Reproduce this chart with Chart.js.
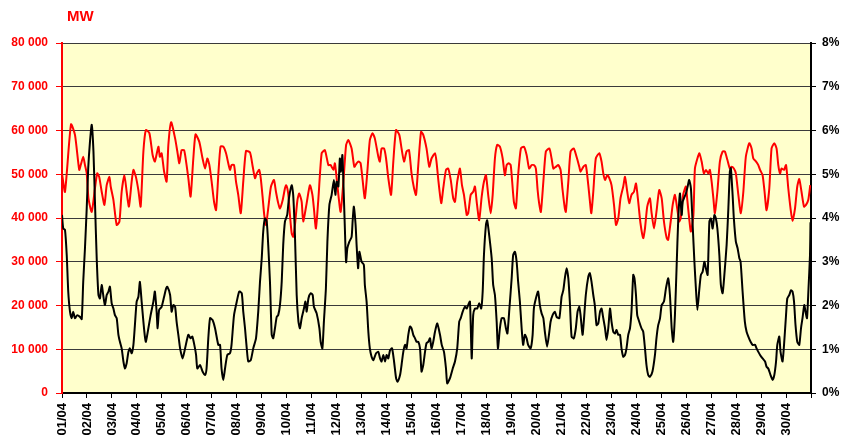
<!DOCTYPE html>
<html>
<head>
<meta charset="utf-8">
<script src="https://cdn.jsdelivr.net/npm/chart.js@4/dist/chart.umd.min.js"></script>
<style>
  html, body { margin: 0; padding: 0; background: #ffffff; }
  #wrap { width: 842px; height: 438px; }
</style>
</head>
<body>
<div id="wrap"><canvas id="c" width="842" height="438"></canvas></div>
<script>
// ---- tick labels ----
const dayLabels = ['01/04','02/04','03/04','04/04','05/04','06/04','07/04','08/04','09/04','10/04',
  '11/04','12/04','13/04','14/04','15/04','16/04','17/04','18/04','19/04','20/04',
  '21/04','22/04','23/04','24/04','25/04','26/04','27/04','28/04','29/04','30/04'];
const unitLabel = 'MW';

// ---- red series: load (MW), time in days since 01/04 00:00 ----
const loadDay = [0.00,0.12,0.36,0.52,0.69,0.75,0.85,0.92,0.99,1.06,1.19,1.32,1.41,1.49,1.59,1.70,1.79,1.90,1.95,2.06,
  2.19,2.30,2.39,2.50,2.59,2.68,2.79,2.86,2.96,3.06,3.15,3.26,3.36,3.50,3.63,3.72,3.86,3.92,3.99,4.09,
  4.19,4.26,4.37,4.53,4.62,4.70,4.79,4.89,4.97,5.06,5.15,5.26,5.35,5.50,5.63,5.73,5.82,5.90,5.99,6.09,
  6.17,6.26,6.35,6.46,6.57,6.66,6.73,6.79,6.89,6.97,7.06,7.16,7.26,7.37,7.53,7.64,7.73,7.80,7.90,7.96,
  8.04,8.10,8.17,8.26,8.37,8.49,8.57,8.66,8.73,8.84,8.93,8.98,9.06,9.13,9.20,9.26,9.33,9.43,9.50,9.60,
  9.66,9.80,9.93,10.03,10.09,10.17,10.27,10.40,10.53,10.67,10.76,10.87,10.93,11.00,11.07,11.16,11.27,11.38,11.47,11.60,
  11.71,11.80,11.88,11.96,12.04,12.13,12.23,12.33,12.44,12.53,12.67,12.73,12.80,12.90,12.98,13.07,13.18,13.27,13.38,13.51,
  13.60,13.70,13.80,13.90,14.00,14.10,14.18,14.27,14.38,14.47,14.60,14.71,14.80,14.94,15.00,15.08,15.19,15.27,15.38,15.47,
  15.57,15.67,15.74,15.83,15.94,16.02,16.10,16.21,16.27,16.37,16.47,16.54,16.61,16.71,16.81,16.90,16.98,17.07,17.17,17.25,
  17.34,17.43,17.54,17.65,17.74,17.81,17.89,17.97,18.02,18.10,18.18,18.27,18.38,18.50,18.61,18.71,18.81,18.90,18.98,19.05,
  19.11,19.18,19.28,19.38,19.52,19.61,19.68,19.78,19.88,19.97,20.05,20.14,20.18,20.28,20.37,20.50,20.61,20.72,20.77,20.88,
  20.98,21.08,21.14,21.20,21.28,21.38,21.52,21.61,21.68,21.75,21.84,21.92,22.01,22.11,22.19,22.28,22.37,22.48,22.55,22.64,
  22.72,22.81,22.91,22.99,23.08,23.17,23.28,23.35,23.44,23.55,23.61,23.71,23.81,23.92,24.02,24.11,24.22,24.28,24.38,24.46,
  24.55,24.64,24.72,24.78,24.88,24.99,25.04,25.12,25.19,25.29,25.35,25.45,25.53,25.62,25.71,25.79,25.89,25.95,26.02,26.09,
  26.15,26.25,26.35,26.46,26.55,26.65,26.75,26.82,26.91,26.99,27.09,27.19,27.29,27.39,27.53,27.62,27.69,27.80,27.89,27.96,
  28.06,28.14,28.22,28.33,28.42,28.53,28.62,28.69,28.76,28.82,28.92,29.00,29.09,29.18,29.26,29.36,29.45,29.53,29.62,29.72,
  29.80,29.89,29.97];
const loadMW = [50200,46000,61400,59000,51000,52100,54000,52100,50200,44500,41400,46800,50200,49400,46000,43000,47500,49400,47200,44100,
  38400,39200,46000,49800,46000,42600,48300,51000,49400,46300,42600,55200,60100,59400,54400,52900,56300,54000,54800,50600,
  48300,56700,61900,58200,55200,52500,55500,55500,52900,49100,44900,53600,59100,57400,53600,51300,53600,52200,48500,43700,
  41800,49800,56300,56300,54800,52500,51000,52100,52100,48300,45300,41100,48300,55300,55000,51700,49100,50200,51000,49100,
  44500,40700,38400,42200,47200,48700,46000,43400,42200,44100,46800,47500,45600,40700,36500,35700,38400,44100,45600,43700,
  39200,43400,47500,45300,42200,37600,44500,54800,55500,52100,52100,51000,52500,49100,45300,41400,48300,56700,57800,55900,
  51700,52500,52900,52500,48700,44500,50600,57800,59400,58200,54000,52900,55900,55900,53600,49100,45300,52900,60100,59000,
  55900,52900,55200,55500,50200,46800,45300,52100,59700,59000,55900,51700,53600,54800,52900,48300,43400,46800,51000,51300,
  48700,44500,43700,48300,51300,47500,45300,40700,41100,45300,46000,47200,43700,39500,44900,48300,49800,45300,41100,45300,
  53600,56700,56300,53600,49800,52100,52500,52100,49100,43700,42200,49800,55900,56300,54400,51300,52100,52100,51300,46400,
  43400,41400,48300,55200,55900,53600,51300,51700,52100,51000,46400,42200,41400,48300,55200,55900,54000,51700,50600,51700,
  52100,47500,44100,41100,46000,53600,54800,52900,50200,48700,49800,49100,47500,43000,38400,39900,44500,47200,49400,46000,
  43400,45300,46000,47900,43700,38800,35400,37600,42600,44500,41400,37600,41400,46400,44500,39200,35400,35000,39200,43000,
  45300,42200,39200,39900,45300,47200,44500,39900,36900,40700,51300,53600,54800,52900,50200,51000,50200,51000,48300,44500,
  41100,46000,52900,55200,55200,53300,51300,51700,51300,50200,45300,41100,46000,54000,57100,55900,53600,52900,52100,51000,
  49800,46000,41800,46800,55900,57100,55900,52100,50200,51300,51000,52100,46800,42200,39300,42200,47200,48900,46000,42600,
  43000,44100,47500];

// ---- black series: percentage (right axis), time in days since 01/04 00:00 ----
const shareDay = [0.00,0.05,0.12,0.19,0.25,0.32,0.39,0.45,0.52,0.61,0.72,0.79,0.85,0.92,0.99,1.05,1.12,1.19,1.26,1.32,
  1.39,1.46,1.52,1.59,1.66,1.72,1.79,1.86,1.92,1.99,2.06,2.12,2.19,2.26,2.32,2.39,2.46,2.52,2.59,2.66,
  2.72,2.79,2.86,2.92,2.99,3.06,3.12,3.19,3.26,3.32,3.36,3.46,3.55,3.66,3.72,3.79,3.83,3.89,3.99,4.09,
  4.17,4.22,4.33,4.39,4.46,4.53,4.59,4.66,4.73,4.83,4.93,5.06,5.15,5.22,5.30,5.37,5.42,5.53,5.63,5.73,
  5.79,5.86,5.93,6.03,6.13,6.26,6.33,6.39,6.46,6.53,6.62,6.73,6.79,6.89,7.00,7.10,7.20,7.26,7.33,7.40,
  7.46,7.56,7.66,7.77,7.86,7.93,8.00,8.06,8.13,8.20,8.26,8.33,8.40,8.46,8.53,8.60,8.66,8.73,8.80,8.86,
  8.93,9.02,9.09,9.20,9.26,9.33,9.40,9.47,9.53,9.60,9.69,9.75,9.80,9.87,9.96,10.04,10.09,10.20,10.31,10.36,
  10.43,10.49,10.57,10.63,10.71,10.80,10.89,10.95,11.00,11.07,11.13,11.17,11.23,11.27,11.33,11.38,11.43,11.51,11.60,11.64,
  11.69,11.76,11.80,11.86,11.91,12.00,12.09,12.13,12.20,12.27,12.33,12.40,12.47,12.58,12.67,12.74,12.80,12.87,12.94,13.00,
  13.07,13.14,13.22,13.30,13.38,13.44,13.54,13.60,13.67,13.74,13.80,13.87,13.94,14.00,14.07,14.14,14.20,14.27,14.34,14.40,
  14.47,14.54,14.60,14.67,14.74,14.80,14.87,14.94,15.03,15.14,15.21,15.30,15.38,15.43,15.54,15.65,15.74,15.83,15.91,15.97,
  16.05,16.14,16.21,16.27,16.34,16.41,16.47,16.54,16.63,16.71,16.79,16.85,16.90,16.98,17.03,17.11,17.21,17.27,17.34,17.41,
  17.46,17.54,17.61,17.70,17.78,17.84,17.92,18.01,18.07,18.14,18.21,18.27,18.34,18.41,18.47,18.54,18.61,18.67,18.77,18.85,
  18.90,18.98,19.07,19.14,19.21,19.28,19.34,19.43,19.52,19.57,19.65,19.74,19.81,19.92,20.01,20.08,20.14,20.21,20.28,20.34,
  20.41,20.50,20.58,20.65,20.72,20.77,20.85,20.90,20.98,21.08,21.14,21.21,21.28,21.34,21.41,21.48,21.55,21.61,21.68,21.75,
  21.81,21.88,21.95,22.01,22.08,22.15,22.21,22.28,22.35,22.41,22.48,22.55,22.61,22.68,22.75,22.81,22.88,22.93,22.99,23.04,
  23.12,23.21,23.28,23.35,23.41,23.48,23.55,23.65,23.75,23.81,23.88,23.95,24.02,24.11,24.19,24.28,24.35,24.42,24.48,24.55,
  24.62,24.68,24.75,24.82,24.86,24.91,24.99,25.06,25.12,25.19,25.26,25.33,25.39,25.45,25.53,25.59,25.66,25.73,25.79,25.86,
  25.93,25.99,26.06,26.13,26.19,26.25,26.33,26.39,26.46,26.53,26.62,26.69,26.75,26.79,26.86,26.91,26.99,27.06,27.13,27.18,
  27.26,27.35,27.42,27.49,27.58,27.66,27.76,27.82,27.89,27.96,28.06,28.16,28.22,28.29,28.38,28.46,28.53,28.60,28.65,28.73,
  28.78,28.86,28.92,29.00,29.05,29.13,29.20,29.26,29.32,29.38,29.45,29.53,29.60,29.66,29.73,29.78,29.84,29.90,29.96,29.98];
const sharePct = [4.07,3.76,3.73,3.15,2.32,1.86,1.71,1.86,1.71,1.78,1.74,1.69,2.54,3.31,4.22,5.13,5.74,6.13,5.52,4.37,
  3.08,2.24,2.16,2.47,2.20,2.01,2.24,2.32,2.43,2.05,1.93,1.78,1.71,1.33,1.17,1.02,0.72,0.56,0.68,0.94,
  1.02,0.91,1.10,1.55,2.09,2.20,2.54,2.09,1.63,1.29,1.17,1.48,1.78,2.09,2.32,1.86,1.48,1.90,1.97,2.20,
  2.39,2.43,2.24,1.86,2.01,1.97,1.63,1.33,1.02,0.79,1.02,1.33,1.25,1.29,1.10,0.87,0.56,0.64,0.49,0.41,
  0.56,1.25,1.71,1.67,1.48,1.10,1.10,0.56,0.30,0.56,0.87,0.91,1.10,1.78,2.09,2.32,2.28,1.86,1.48,1.02,
  0.72,0.75,1.02,1.25,1.86,2.54,3.08,3.69,3.99,3.92,3.38,2.54,1.33,1.25,1.48,1.74,1.78,2.01,2.54,3.38,
  3.92,4.07,4.45,4.75,4.53,3.61,2.24,1.63,1.48,1.71,1.93,2.09,1.86,2.16,2.28,2.24,1.97,1.82,1.48,1.17,
  1.02,1.63,2.39,3.46,4.30,4.53,4.87,4.53,4.83,4.72,5.36,5.06,5.44,4.83,3.76,2.99,3.31,3.46,3.57,3.92,
  4.26,3.84,3.38,2.85,3.23,3.00,2.93,2.47,2.09,1.40,1.02,0.83,0.75,0.91,0.94,0.79,0.72,0.87,0.72,0.87,
  0.79,0.98,1.02,0.72,0.34,0.26,0.41,0.64,0.94,1.10,1.02,1.33,1.52,1.48,1.33,1.25,1.17,1.17,1.02,0.49,
  0.64,0.94,1.14,1.17,1.25,1.02,1.17,1.40,1.59,1.33,1.10,0.94,0.56,0.22,0.34,0.56,0.72,1.02,1.63,1.71,
  1.86,1.97,1.93,2.01,2.09,0.79,1.78,1.93,1.93,2.05,1.93,2.32,3.15,3.84,3.95,3.61,3.08,2.47,2.24,1.63,
  1.02,1.48,1.71,1.71,1.48,1.36,1.93,2.62,3.15,3.23,3.00,2.54,2.09,1.48,1.10,1.33,1.25,1.10,1.02,1.33,
  1.93,2.16,2.32,2.01,1.82,1.71,1.40,1.06,1.40,1.63,1.78,1.86,1.74,1.71,2.20,2.35,2.62,2.85,2.62,2.09,
  1.29,1.25,1.48,1.86,1.97,1.78,1.33,1.63,2.24,2.66,2.74,2.54,2.24,2.01,1.55,1.59,1.86,1.93,1.71,1.48,
  1.21,1.48,1.93,1.63,1.40,1.36,1.44,1.33,1.33,1.02,0.83,0.87,1.02,1.33,1.48,1.86,2.70,2.62,2.24,1.78,
  1.63,1.48,1.40,1.02,0.64,0.41,0.37,0.49,0.87,1.25,1.55,1.70,2.01,2.09,2.39,2.62,2.24,1.48,1.17,1.78,
  2.93,3.92,4.56,4.07,4.37,4.45,4.56,4.72,4.87,4.68,3.84,3.00,2.39,1.90,2.39,2.70,2.77,3.00,2.85,2.70,
  3.92,3.99,3.76,4.07,3.99,3.76,3.15,2.47,2.28,2.70,3.38,4.22,5.06,5.14,4.53,3.99,3.46,3.31,3.08,3.00,
  2.32,1.63,1.40,1.29,1.17,1.10,1.10,1.02,0.94,0.87,0.79,0.72,0.60,0.56,0.41,0.30,0.41,0.72,1.10,1.29,
  0.94,0.72,1.10,1.78,2.16,2.24,2.35,2.32,2.09,1.55,1.17,1.10,1.48,1.71,2.01,1.86,1.71,2.39,3.15,3.90];

const FONT = '"Liberation Sans", Arial, sans-serif';

const decorPlugin = {
  id: 'decor',
  beforeDraw(chart) {
    const { ctx, chartArea: a } = chart;
    ctx.save();
    ctx.fillStyle = '#FFFFCC';
    ctx.fillRect(a.left, a.top, a.right - a.left, a.bottom - a.top);
    ctx.fillStyle = '#FF0000';
    ctx.font = 'bold 15px ' + FONT;
    ctx.textBaseline = 'top';
    ctx.textAlign = 'left';
    ctx.fillText(unitLabel, 67, 9);
    ctx.restore();
  }
};

new Chart(document.getElementById('c'), {
  type: 'line',
  data: {
    datasets: [
      {
        label: '%',
        data: shareDay.map((d, i) => ({ x: d, y: sharePct[i] })),
        borderColor: '#000000',
        borderWidth: 2,
        pointRadius: 0,
        tension: 0.2,
        yAxisID: 'y1'
      },
      {
        label: 'MW',
        data: loadDay.map((d, i) => ({ x: d, y: loadMW[i] })),
        borderColor: '#FF0000',
        borderWidth: 2,
        pointRadius: 0,
        tension: 0.2,
        yAxisID: 'y'
      }
    ]
  },
  options: {
    responsive: false,
    animation: false,
    devicePixelRatio: 1,
    layout: { padding: { top: 43, left: 0, right: 0, bottom: 0 } },
    plugins: { legend: { display: false }, tooltip: { enabled: false }, title: { display: false } },
    scales: {
      x: {
        type: 'linear',
        min: 0, max: 30,
        afterFit: (s) => { s.height = 45; },
        border: { color: '#000000', width: 2 },
        grid: { drawOnChartArea: false, color: '#000000', tickLength: 5, lineWidth: 1 },
        ticks: {
          stepSize: 1, autoSkip: false, maxRotation: 90, minRotation: 90, padding: 5,
          color: '#000000', font: { family: FONT, size: 13, weight: 'bold' },
          callback: (v) => (v < dayLabels.length ? dayLabels[v] : '')
        }
      },
      y: {
        position: 'left',
        min: 0, max: 80000,
        afterFit: (s) => { s.width = 62; },
        border: { color: '#FF0000', width: 2 },
        grid: { color: '#3a3a3a', lineWidth: 1, tickColor: '#FF0000', tickLength: 6 },
        ticks: {
          stepSize: 10000, padding: 8, color: '#FF0000',
          font: { family: FONT, size: 12, weight: 'bold' },
          callback: (v) => (v === 0 ? '0' : (v / 1000) + ' 000')
        }
      },
      y1: {
        position: 'right',
        min: 0, max: 8,
        afterFit: (s) => { s.width = 31; },
        border: { color: '#000000', width: 2 },
        grid: { drawOnChartArea: false, color: '#000000', tickLength: 5 },
        ticks: {
          stepSize: 1, padding: 6, color: '#000000',
          font: { family: FONT, size: 12, weight: 'bold' },
          callback: (v) => v + '%'
        }
      }
    }
  },
  plugins: [decorPlugin]
});
</script>
</body>
</html>
